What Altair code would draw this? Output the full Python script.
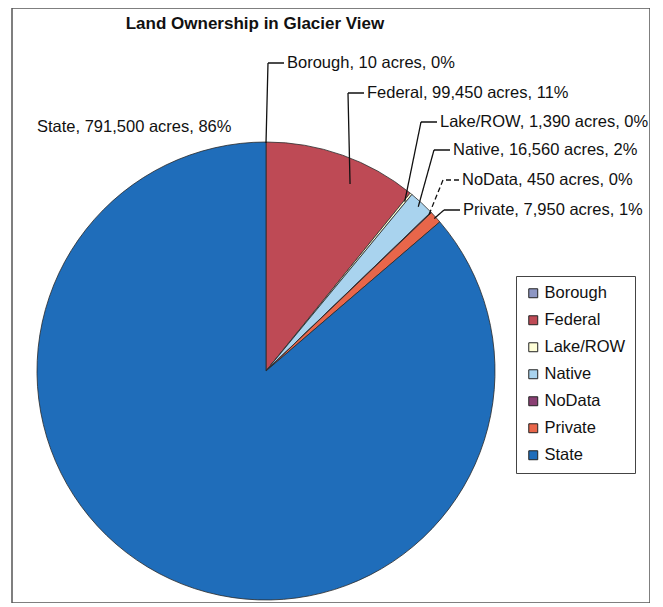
import math
import altair as alt
import pandas as pd

# ---- data ----
title_text = "Land Ownership in Glacier View"
categories = ["Borough", "Federal", "Lake/ROW", "Native", "NoData", "Private", "State"]
acres = [10, 99450, 1390, 16560, 450, 7950, 791500]
percents = ["0%", "11%", "0%", "2%", "0%", "1%", "86%"]

# ---- styles / layout ----
colors = ["#8E97C4", "#BE4A55", "#FFFFD8", "#A9D3EE", "#8A3F73", "#E8664A", "#1F6DBA"]
FONT = "Liberation Sans"
FS = 16.5
W, H = 638, 595
cx, cy, R = 254, 363, 229
label_x = [275, 355, 428, 441, 450, 451, 25]
label_y = [55, 85, 114, 142, 172, 202, 119]
leader_r = [228, 205, 219, 224, 226, 227, None]
leader_dash = ["solid", "solid", "solid", "solid", "dash", "solid", None]

total = float(sum(acres))
pie_df = pd.DataFrame({"category": categories, "acres": acres, "idx": list(range(len(categories)))})

labels = [f"{c}, {a:,} acres, {p}" for c, a, p in zip(categories, acres, percents)]
lab_df = pd.DataFrame({"label": labels, "lx": label_x, "ly": label_y})

# leader lines: from label stub -> elbow -> slice (angle from data)
rows = []
cum = 0.0
for i, a in enumerate(acres):
    frac = (cum + a / 2.0) / total
    if categories[i] == "Federal":
        frac = (cum + a * 0.62) / total
    mid = frac * 2 * math.pi
    cum += a
    if leader_r[i] is None:
        continue
    ex = cx + leader_r[i] * math.sin(mid)
    ey = cy - leader_r[i] * math.cos(mid)
    pts = [(label_x[i] - 3, label_y[i]), (label_x[i] - 19, label_y[i]), (ex, ey)]
    for k, (px, py) in enumerate(pts):
        rows.append({"cat": categories[i], "k": k, "px": px, "py": py, "dash": leader_dash[i]})
lead_df = pd.DataFrame(rows)

arc = alt.Chart(pie_df).mark_arc(outerRadius=R, stroke="#2a2a2a", strokeWidth=0.8).encode(
    theta=alt.Theta("acres:Q", stack=True),
    order=alt.Order("idx:Q"),
    color=alt.Color(
        "category:N",
        scale=alt.Scale(domain=categories, range=colors),
        legend=alt.Legend(
            title=None,
            orient="none",
            legendX=504,
            legendY=268,
            labelFont=FONT,
            labelFontSize=FS,
            labelColor="#111",
            symbolType="square",
            symbolSize=80,
            symbolStrokeColor="#222",
            symbolStrokeWidth=1,
            symbolOpacity=1,
            strokeColor="#444",
            padding=9,
            rowPadding=10,
            labelOffset=3,
        ),
    ),
    x=alt.value(cx),
    y=alt.value(cy),
)

leaders = alt.Chart(lead_df).mark_line(color="#111", strokeWidth=1.3).encode(
    x=alt.X("px:Q", scale=None, axis=None),
    y=alt.Y("py:Q", scale=None, axis=None),
    detail="cat:N",
    order="k:Q",
    strokeDash=alt.StrokeDash("dash:N", scale=alt.Scale(domain=["solid", "dash"], range=[[1, 0], [5, 3]]), legend=None),
)

texts = alt.Chart(lab_df).mark_text(align="left", baseline="middle", font=FONT, fontSize=FS, color="#111").encode(
    x=alt.X("lx:Q", scale=None, axis=None),
    y=alt.Y("ly:Q", scale=None, axis=None),
    text="label:N",
)

title = alt.Chart(pd.DataFrame({"t": [title_text]})).mark_text(
    align="center", baseline="middle", font=FONT, fontSize=17, fontWeight="bold", color="#111"
).encode(x=alt.value(243), y=alt.value(16), text="t:N")

chart = alt.layer(arc, leaders, texts, title).properties(
    width=W, height=H, padding={"left": 4, "top": 0, "right": 0, "bottom": 0},
    autosize=alt.AutoSizeParams(type="none"),
    background="white",
).configure_view(stroke="#555", strokeWidth=1.5)

chart.save("out.html", embed_options={"renderer": "svg", "actions": False})
